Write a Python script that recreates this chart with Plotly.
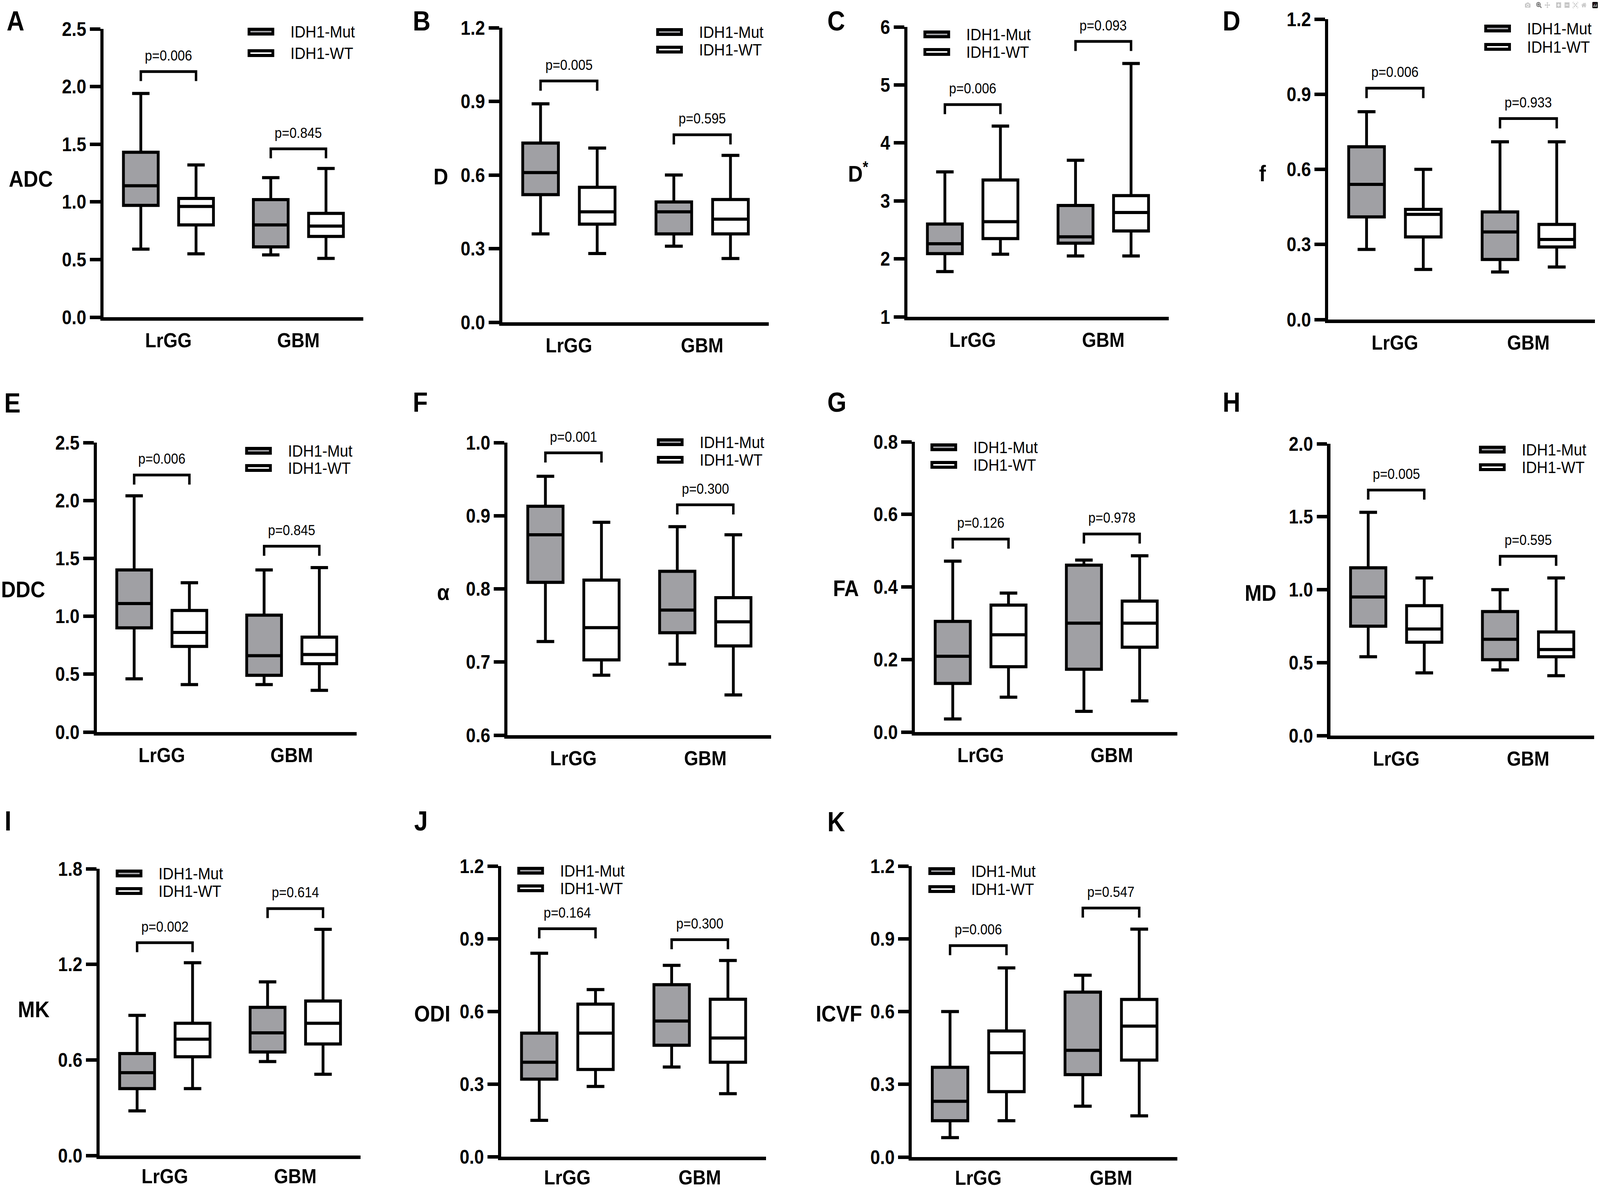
import plotly.graph_objects as go

W, H = 4562, 3054

GROUPS = ["LrGG", "GBM"]
SERIES = ["IDH1-Mut", "IDH1-WT"]

# box stats per group: [min, q1, median, q3, max] for LrGG then GBM
ADC_MUT = [[0.59, 0.97, 1.14, 1.43, 1.94], [0.54, 0.61, 0.80, 1.02, 1.21]]
ADC_WT = [[0.55, 0.80, 0.96, 1.03, 1.32], [0.51, 0.70, 0.79, 0.90, 1.29]]
D_MUT = [[0.36, 0.52, 0.61, 0.73, 0.89], [0.31, 0.36, 0.45, 0.49, 0.60]]
D_WT = [[0.28, 0.40, 0.45, 0.55, 0.71], [0.26, 0.36, 0.42, 0.50, 0.68]]
DSTAR_MUT = [[1.78, 2.09, 2.26, 2.60, 3.50], [2.05, 2.27, 2.38, 2.92, 3.70]]
DSTAR_WT = [[2.08, 2.35, 2.64, 3.36, 4.29], [2.05, 2.48, 2.80, 3.09, 5.37]]
F_MUT = [[0.28, 0.41, 0.54, 0.69, 0.83], [0.19, 0.24, 0.35, 0.43, 0.71]]
F_WT = [[0.20, 0.33, 0.42, 0.44, 0.60], [0.21, 0.29, 0.32, 0.38, 0.71]]
DDC_MUT = [[0.46, 0.90, 1.11, 1.40, 2.04], [0.41, 0.49, 0.66, 1.01, 1.40]]
DDC_WT = [[0.41, 0.74, 0.86, 1.05, 1.29], [0.36, 0.59, 0.67, 0.82, 1.42]]
ALPHA_MUT = [[0.728, 0.809, 0.874, 0.913, 0.954], [0.697, 0.740, 0.771, 0.824, 0.885]]
ALPHA_WT = [[0.682, 0.703, 0.747, 0.812, 0.891], [0.655, 0.722, 0.755, 0.788, 0.874]]
FA_MUT = [[0.036, 0.134, 0.209, 0.305, 0.471], [0.057, 0.173, 0.300, 0.460, 0.474]]
FA_WT = [[0.096, 0.180, 0.268, 0.350, 0.383], [0.086, 0.234, 0.300, 0.361, 0.486]]
MD_MUT = [[0.54, 0.75, 0.95, 1.15, 1.53], [0.45, 0.52, 0.66, 0.85, 1.00]]
MD_WT = [[0.43, 0.64, 0.73, 0.89, 1.08], [0.41, 0.54, 0.59, 0.71, 1.08]]
MK_MUT = [[0.28, 0.42, 0.52, 0.64, 0.88], [0.59, 0.65, 0.77, 0.93, 1.09]]
MK_WT = [[0.42, 0.62, 0.73, 0.83, 1.21], [0.51, 0.70, 0.83, 0.97, 1.42]]
ODI_MUT = [[0.15, 0.32, 0.39, 0.51, 0.84], [0.37, 0.46, 0.56, 0.71, 0.79]]
ODI_WT = [[0.29, 0.36, 0.51, 0.63, 0.69], [0.26, 0.39, 0.49, 0.65, 0.81]]
ICVF_MUT = [[0.08, 0.15, 0.23, 0.37, 0.60], [0.21, 0.34, 0.44, 0.68, 0.75]]
ICVF_WT = [[0.15, 0.27, 0.43, 0.52, 0.78], [0.17, 0.40, 0.54, 0.65, 0.94]]

# p-values (LrGG, GBM)
P_ADC = ["0.006", "0.845"]
P_D = ["0.005", "0.595"]
P_DSTAR = ["0.006", "0.093"]
P_F = ["0.006", "0.933"]
P_DDC = ["0.006", "0.845"]
P_ALPHA = ["0.001", "0.300"]
P_FA = ["0.126", "0.978"]
P_MD = ["0.005", "0.595"]
P_MK = ["0.002", "0.614"]
P_ODI = ["0.164", "0.300"]
P_ICVF = ["0.006", "0.547"]

GREY = "#a0a0a4"
FONT = "Liberation Sans, Arial, sans-serif"
LW = 8
BOXGAP, BOXGROUPGAP = 0.15, 0.37

# layout of each panel: letter, y title, data, p, y range, dtick, tick format,
# plot box in px (left, right, top, bottom), bracket heights,
# legend (patch left px, mut centre y px, wt centre y px), title centre, letter centre
panels = [
    dict(letter="A", title="ADC", mut=ADC_MUT, wt=ADC_WT, p=P_ADC, rng=[0, 2.5], dtick=0.5, fmt=".1f",
         box=(295, 1036, 74, 812), br=[2.13, 1.46], leg=(706, 81, 136), tpos=(88, 458), lpos=(44, 54)),
    dict(letter="B", title="D", mut=D_MUT, wt=D_WT, p=P_D, rng=[0, 1.2], dtick=0.3, fmt=".1f",
         box=(1432, 2192, 71, 825), br=[0.983, 0.764], leg=(1871, 82, 127), tpos=(1257, 452), lpos=(1202, 54)),
    dict(letter="C", title="D<sup>*</sup>", mut=DSTAR_MUT, wt=DSTAR_WT, p=P_DSTAR, rng=[1, 6], dtick=1, fmt="d",
         box=(2587, 3332, 69, 811), br=[4.66, 5.75], leg=(2633, 88, 133), tpos=(2447, 440), lpos=(2384, 54)),
    dict(letter="D", title="f", mut=F_MUT, wt=F_WT, p=P_F, rng=[0, 1.2], dtick=0.3, fmt=".1f",
         box=(3787, 4548, 49, 818), br=[0.924, 0.803], leg=(4232, 73, 120), tpos=(3600, 443), lpos=(3511, 54)),
    dict(letter="E", title="DDC", mut=DDC_MUT, wt=DDC_WT, p=P_DDC, rng=[0, 2.5], dtick=0.5, fmt=".1f",
         box=(276, 1017, 1133, 1874), br=[2.22, 1.605], leg=(699, 1154, 1198), tpos=(66, 1508), lpos=(35, 1032)),
    dict(letter="F", title="α", mut=ALPHA_MUT, wt=ALPHA_WT, p=P_ALPHA, rng=[0.6, 1.0], dtick=0.1, fmt=".1f",
         box=(1447, 2199, 1133, 1882), br=[0.986, 0.915], leg=(1873, 1132, 1177), tpos=(1264, 1515), lpos=(1198, 1030)),
    dict(letter="G", title="FA", mut=FA_MUT, wt=FA_WT, p=P_FA, rng=[0, 0.8], dtick=0.2, fmt=".1f",
         box=(2609, 3357, 1131, 1874), br=[0.532, 0.546], leg=(2653, 1145, 1190), tpos=(2412, 1505), lpos=(2386, 1030)),
    dict(letter="H", title="MD", mut=MD_MUT, wt=MD_WT, p=P_MD, rng=[0, 2.0], dtick=0.5, fmt=".1f",
         box=(3793, 4545, 1136, 1883), br=[1.683, 1.229], leg=(4217, 1151, 1196), tpos=(3594, 1518), lpos=(3511, 1030)),
    dict(letter="I", title="MK", mut=MK_MUT, wt=MK_WT, p=P_MK, rng=[0, 1.8], dtick=0.6, fmt=".1f",
         box=(284, 1028, 2224, 2958), br=[1.336, 1.55], leg=(330, 2236, 2281), tpos=(96, 2583), lpos=(22, 2102)),
    dict(letter="J", title="ODI", mut=ODI_MUT, wt=ODI_WT, p=P_ODI, rng=[0, 1.2], dtick=0.3, fmt=".1f",
         box=(1429, 2184, 2217, 2961), br=[0.941, 0.896], leg=(1475, 2229, 2274), tpos=(1233, 2594), lpos=(1200, 2102)),
    dict(letter="K", title="ICVF", mut=ICVF_MUT, wt=ICVF_WT, p=P_ICVF, rng=[0, 1.2], dtick=0.3, fmt=".1f",
         box=(2600, 3357, 2217, 2962), br=[0.872, 1.027], leg=(2647, 2230, 2276), tpos=(2392, 2594), lpos=(2384, 2104)),
]


def px(x):
    return x / W


def py(y):
    return 1 - y / H


fig = go.Figure()
layout = {}
shapes = []
annotations = []
xpos = list(range(len(GROUPS)))
off = 0.25 * (1 - BOXGAP)

for i, pn in enumerate(panels, start=1):
    xa, ya = "x%d" % i, "y%d" % i
    for name, stats, fill, grp in [(SERIES[0], pn["mut"], GREY, "mut"), (SERIES[1], pn["wt"], "white", "wt")]:
        fig.add_trace(go.Box(
            x=xpos, lowerfence=[s[0] for s in stats], q1=[s[1] for s in stats],
            median=[s[2] for s in stats], q3=[s[3] for s in stats],
            upperfence=[s[4] for s in stats], name=name, offsetgroup=grp,
            fillcolor=fill, line=dict(color="black", width=LW), whiskerwidth=0.5,
            boxpoints=False, showlegend=False, xaxis=xa, yaxis=ya))

    l, r, t, b = pn["box"]
    layout["xaxis%d" % i] = dict(
        domain=[px(l), px(r)], anchor=ya, range=[-0.5, 1.5], tickvals=xpos, ticktext=GROUPS,
        showline=True, linecolor="black", linewidth=LW + 1, ticks="", showgrid=False, zeroline=False,
        automargin=False, ticklabelstandoff=0 if t > 2000 else 6,
        tickfont=dict(family=FONT, size=52, color="black", weight="bold"))
    layout["yaxis%d" % i] = dict(
        domain=[py(b), py(t)], anchor=xa, range=pn["rng"], dtick=pn["dtick"], tick0=pn["rng"][0],
        tickformat=pn["fmt"], showline=True, linecolor="black", linewidth=LW + 1, ticks="outside",
        ticklen=30, tickwidth=LW + 1, tickcolor="black", showgrid=False, zeroline=False,
        automargin=False, tickfont=dict(family=FONT, size=50, color="black", weight="bold"))

    # significance brackets
    span = pn["rng"][1] - pn["rng"][0]
    for g, top in enumerate(pn["br"]):
        x0, x1 = g - off, g + off
        leg = top - 0.033 * span
        shapes.append(dict(type="path", xref=xa, yref=ya,
                           path="M %f,%f L %f,%f L %f,%f L %f,%f" % (x0, leg, x0, top, x1, top, x1, leg),
                           line=dict(color="black", width=LW - 1)))
        annotations.append(dict(x=g, y=top, xref=xa, yref=ya, yshift=41, text="p=" + pn["p"][g],
                                showarrow=False, xanchor="center", yanchor="middle",
                                font=dict(family=FONT, size=37, color="black")))

    # legend patches
    lx, my, wy = pn["leg"]
    for cy, fill, label in [(my, GREY, SERIES[0]), (wy, "white", SERIES[1])]:
        shapes.append(dict(type="rect", xref="paper", yref="paper",
                           x0=px(lx + 4), x1=px(lx + 72), y0=py(cy + 6), y1=py(cy - 6),
                           fillcolor=fill, line=dict(color="black", width=LW)))
        annotations.append(dict(x=px(lx + 120), y=py(cy), xref="paper", yref="paper", text=label,
                                showarrow=False, xanchor="left", yanchor="middle",
                                font=dict(family=FONT, size=43, color="black")))

    # y title and panel letter
    annotations.append(dict(x=px(pn["tpos"][0]), y=py(pn["tpos"][1]), xref="paper", yref="paper",
                            text="<b>%s</b>" % pn["title"], showarrow=False, xanchor="center",
                            yanchor="middle", font=dict(family=FONT, size=58, color="black")))
    annotations.append(dict(x=px(pn["lpos"][0]), y=py(pn["lpos"][1]), xref="paper", yref="paper",
                            text="<b>%s</b>" % pn["letter"], showarrow=False, xanchor="center",
                            yanchor="middle", font=dict(family=FONT, size=70, color="black")))

fig.update_layout(
    template="none",
    width=W, height=H, margin=dict(l=0, r=0, t=0, b=0, pad=0),
    paper_bgcolor="white", plot_bgcolor="white",
    boxmode="group", boxgap=BOXGAP, boxgroupgap=BOXGROUPGAP,
    shapes=shapes, annotations=annotations, showlegend=False,
    **layout)

# the browser may clamp the window below the figure size: stretch the figure onto the window
fit_script = """
var gd = document.getElementById('{plot_id}');
document.documentElement.style.margin = '0';
document.documentElement.style.overflow = 'hidden';
document.body.style.margin = '0';
document.body.style.overflow = 'hidden';
var sx = window.innerWidth / %d, sy = window.innerHeight / %d;
if (Math.abs(sx - 1) > 0.001 || Math.abs(sy - 1) > 0.001) {
  gd.style.transformOrigin = '0 0';
  gd.style.transform = 'scale(' + sx + ',' + sy + ')';
}
""" % (W, H)

fig.write_html("out.html", post_script=fit_script)
